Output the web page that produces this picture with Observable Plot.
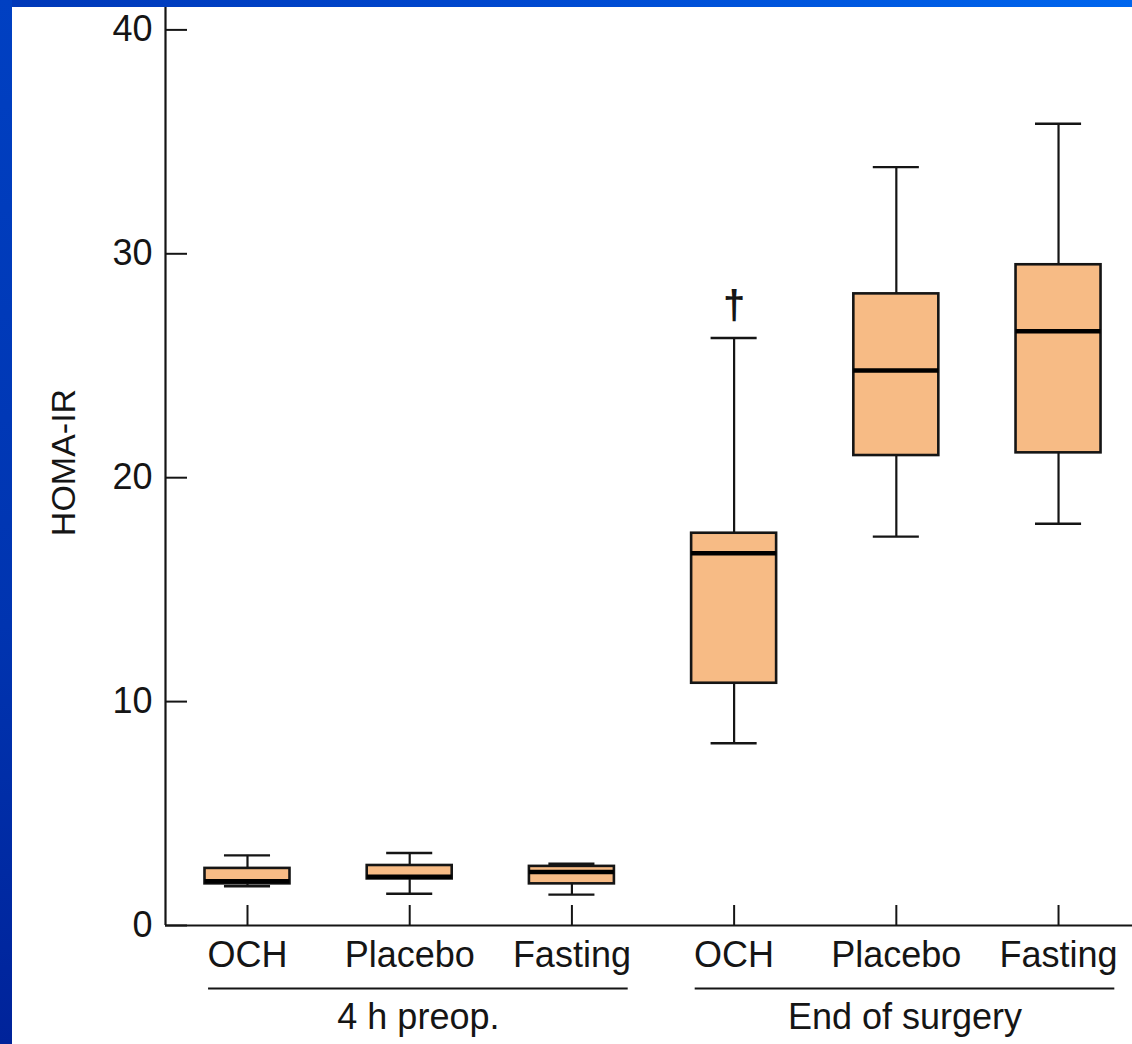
<!DOCTYPE html>
<html><head><meta charset="utf-8">
<script src="https://cdn.jsdelivr.net/npm/d3@7"></script>
<script src="https://cdn.jsdelivr.net/npm/@observablehq/plot@0.6"></script>
<style>
html,body{margin:0;padding:0;width:1132px;height:1044px;overflow:hidden;background:#fff}
#topbar{position:absolute;left:0;top:0;width:1132px;height:7px;background:linear-gradient(to right,#0038b8,#0048cf 45%,#0066ee)}
#leftbar{position:absolute;left:0;top:0;width:12px;height:1044px;background:linear-gradient(to bottom,#0040c2,#0034b0 60%,#00239a)}
#panel{position:absolute;left:12px;top:7px;width:1120px;height:1037px;background:#fff}
</style></head><body>
<div id="topbar"></div><div id="leftbar"></div><div id="panel"></div>
<script>
// ---- data ----
const categories = ["OCH", "Placebo", "Fasting", "OCH", "Placebo", "Fasting"];
const groups = ["4 h preop.", "End of surgery"];
const groupOf = [0, 0, 0, 1, 1, 1];
const whiskerLow  = [1.75, 1.42, 1.38, 8.14, 17.37, 17.94];
const quartile1   = [1.86, 2.08, 1.86, 10.82, 20.99, 21.11];
const median      = [1.98, 2.18, 2.39, 16.63, 24.79, 26.54];
const quartile3   = [2.55, 2.68, 2.64, 17.52, 28.21, 29.51];
const whiskerHigh = [3.13, 3.24, 2.76, 26.24, 33.87, 35.81];
const notes = ["", "", "", "†", "", ""];
const yTicks = [0, 10, 20, 30, 40];
const yLabel = "HOMA-IR";

// ---- layout / style ----
const W = 1120, H = 1037, mL = 153, mB = 119;
const xDomain = [-0.5055, 5.456];
const yDomain = [0, 41];
const pxPerX = (W - mL) / (xDomain[1] - xDomain[0]);
const pxPerY = (H - mB) / (yDomain[1] - yDomain[0]);
const boxHalf = 0.262, capHalf = 0.142;
const ink = "#151515", fillColor = "#f7bb85";
const font = "'Liberation Sans', Arial, Helvetica, sans-serif";

const idx = categories.map((_, i) => i);
const boxes = idx.map(i => ({
  i, cat: categories[i], lo: whiskerLow[i], q1: quartile1[i], med: median[i],
  q3: quartile3[i], hi: whiskerHigh[i], note: notes[i]
}));
const spans = groups.map((g, k) => {
  const m = idx.filter(i => groupOf[i] === k);
  const a = Math.min(...m) - 0.24, b = Math.max(...m) + 0.347;
  return {g, a, b, mid: (a + b) / 2};
});

const plot = Plot.plot({
  width: W, height: H,
  marginLeft: mL, marginRight: 0, marginTop: 0, marginBottom: mB,
  x: {type: "linear", domain: xDomain, axis: null},
  y: {type: "linear", domain: yDomain, axis: null},
  style: {fontFamily: font, background: "white", color: ink, overflow: "visible"},
  marks: [
    // axes lines
    Plot.ruleY([0], {y: d => d, stroke: ink, strokeWidth: 2.2}),
    Plot.ruleX([xDomain[0]], {x: d => d, y1: yDomain[0], y2: yDomain[1], stroke: ink, strokeWidth: 2.2}),
    // y ticks (inward) and labels
    Plot.ruleY(yTicks, {y: d => d, x1: xDomain[0], x2: xDomain[0] + 22 / pxPerX, stroke: ink, strokeWidth: 2}),
    Plot.text(yTicks, {y: d => d, text: d => String(d), frameAnchor: "left", textAnchor: "end", dx: -13, fontSize: 36, fill: ink}),
    // x ticks (inward) and labels
    Plot.ruleX(idx, {x: d => d, y1: 0, y2: 20 / pxPerY, stroke: ink, strokeWidth: 2}),
    Plot.text(boxes, {x: "i", y: 0, text: "cat", dy: 30, fontSize: 36, fill: ink}),
    // group brackets
    Plot.ruleY(spans, {y: 0, x1: "a", x2: "b", dy: 63, stroke: ink, strokeWidth: 2}),
    Plot.text(spans, {x: "mid", y: 0, text: "g", dy: 92, fontSize: 36, fill: ink}),
    // y label
    Plot.text([yLabel], {text: d => d, frameAnchor: "left", textAnchor: "middle", rotate: -90, dx: -101, dy: -4, fontSize: 34, fill: ink}),
    // whiskers
    Plot.ruleX(boxes, {x: "i", y1: "q3", y2: "hi", stroke: ink, strokeWidth: 2.2}),
    Plot.ruleX(boxes, {x: "i", y1: "lo", y2: "q1", stroke: ink, strokeWidth: 2.2}),
    Plot.ruleY(boxes, {y: "hi", x1: d => d.i - capHalf, x2: d => d.i + capHalf, stroke: ink, strokeWidth: 2.4}),
    Plot.ruleY(boxes, {y: "lo", x1: d => d.i - capHalf, x2: d => d.i + capHalf, stroke: ink, strokeWidth: 2.4}),
    // boxes
    Plot.rect(boxes, {x1: d => d.i - boxHalf, x2: d => d.i + boxHalf, y1: "q1", y2: "q3", fill: fillColor, stroke: ink, strokeWidth: 2.6}),
    Plot.ruleY(boxes, {y: "med", x1: d => d.i - boxHalf, x2: d => d.i + boxHalf, stroke: "#000", strokeWidth: 4.5}),
    // annotation
    Plot.text(boxes.filter(d => d.note), {x: "i", y: "hi", text: "note", dy: -32, fontSize: 40, fontWeight: "bold", fill: ink})
  ]
});
document.getElementById("panel").appendChild(plot);
</script>
</body></html>
